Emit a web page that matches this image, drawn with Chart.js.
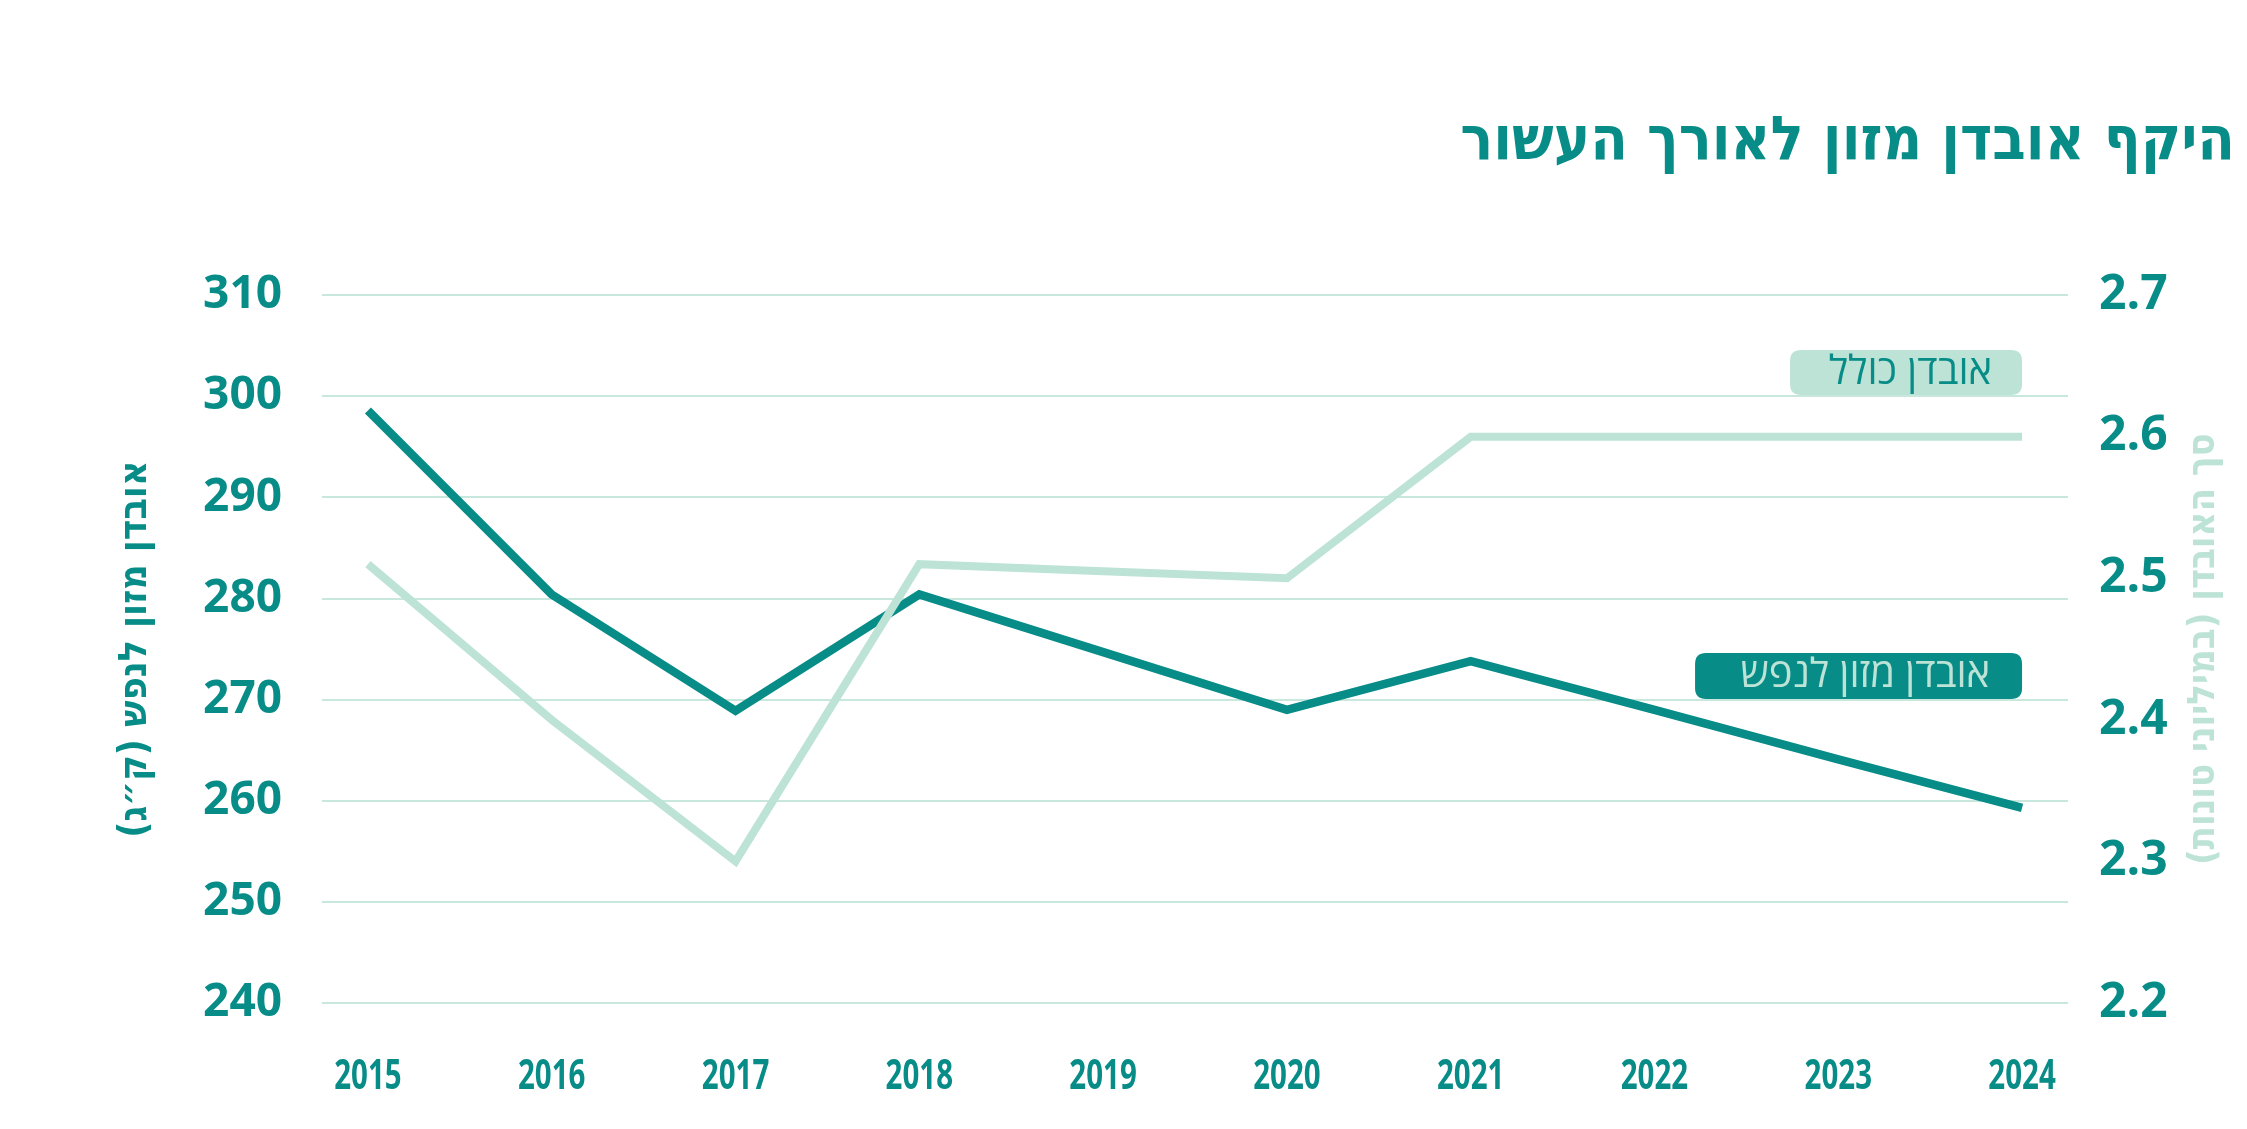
<!DOCTYPE html>
<html lang="he">
<head>
<meta charset="utf-8">
<script src="https://cdn.jsdelivr.net/npm/chart.js@4.4.1/dist/chart.umd.min.js"></script>
<style>
  html, body { margin: 0; padding: 0; background: #ffffff; }
  #wrap { width: 2247px; height: 1129px; }
</style>
</head>
<body>
<div id="wrap"><canvas id="c" width="2247" height="1129"></canvas></div>
<script>
// ---- Data ----
const years = [2015, 2016, 2017, 2018, 2019, 2020, 2021, 2022, 2023, 2024];
const perCapitaKg = [298.6, 280.4, 268.9, 280.4, 274.7, 269.0, 273.8, 269.0, 264.1, 259.3];
const totalMillionTons = [2.51, 2.40, 2.30, 2.51, 2.505, 2.50, 2.60, 2.60, 2.60, 2.60];
const leftTicks = [240, 250, 260, 270, 280, 290, 300, 310];
const rightTicks = [2.2, 2.3, 2.4, 2.5, 2.6, 2.7];

const titleText = 'היקף אובדן מזון לאורך העשור';
const leftAxisTitle = 'אובדן מזון לנפש (ק״ג)';
const rightAxisTitle = 'סך האובדן (במיליוני טונות)';
const totalLabel = 'אובדן כולל';
const perCapitaLabel = 'אובדן מזון לנפש';

const DARK = '#078C87';
const LIGHT = '#BDE3D7';
const GRID = '#C8E8DE';

const condensed = '"DejaVu Sans Condensed", "DejaVu Sans", sans-serif';
const sans = '"Open Sans", "Noto Sans", "DejaVu Sans", sans-serif';

function roundRect(ctx, x, y, w, h, r) {
  ctx.beginPath();
  ctx.moveTo(x + r, y);
  ctx.lineTo(x + w - r, y);
  ctx.quadraticCurveTo(x + w, y, x + w, y + r);
  ctx.lineTo(x + w, y + h - r);
  ctx.quadraticCurveTo(x + w, y + h, x + w - r, y + h);
  ctx.lineTo(x + r, y + h);
  ctx.quadraticCurveTo(x, y + h, x, y + h - r);
  ctx.lineTo(x, y + r);
  ctx.quadraticCurveTo(x, y, x + r, y);
  ctx.closePath();
}

const decor = {
  id: 'decor',
  afterDraw(chart) {
    const ctx = chart.ctx;
    const area = chart.chartArea;
    const midY = (area.top + area.bottom) / 2;
    ctx.save();
    ctx.direction = 'rtl';
    ctx.textBaseline = 'middle';
    ctx.textAlign = 'center';
    ctx.font = 'bold 39px ' + condensed;
    // left axis title (rotated counter-clockwise)
    ctx.save();
    ctx.translate(136, midY);
    ctx.rotate(-Math.PI / 2);
    ctx.fillStyle = DARK;
    ctx.fillText(leftAxisTitle, 0, 0);
    ctx.restore();
    // right axis title (also counter-clockwise)
    ctx.save();
    ctx.translate(2204, midY);
    ctx.rotate(-Math.PI / 2);
    ctx.fillStyle = LIGHT;
    ctx.font = 'bold 38px ' + condensed;
    ctx.fillText(rightAxisTitle, 0, 0);
    ctx.restore();

    // x tick labels, condensed (positions from the x scale)
    const xs = chart.scales.x;
    ctx.direction = 'ltr';
    ctx.font = 'bold 41px ' + sans;
    ctx.fillStyle = DARK;
    xs.ticks.forEach((t) => {
      ctx.save();
      ctx.translate(xs.getPixelForValue(t.value), 1077);
      ctx.scale(0.72, 1);
      ctx.fillText(String(t.value), 0, 0);
      ctx.restore();
    });

    // series labels
    ctx.direction = 'rtl';
    const xr = xs.getPixelForValue(years[years.length - 1]);
    ctx.textAlign = 'right';
    ctx.font = '40px ' + sans;
    roundRect(ctx, xr - 232, 350, 232, 45, 11);
    ctx.fillStyle = LIGHT;
    ctx.fill();
    ctx.fillStyle = DARK;
    ctx.fillText(totalLabel, xr - 30, 373);
    roundRect(ctx, xr - 327, 653, 327, 46, 11);
    ctx.fillStyle = DARK;
    ctx.fill();
    ctx.fillStyle = LIGHT;
    ctx.fillText(perCapitaLabel, xr - 32, 676);
    ctx.restore();
  }
};

new Chart(document.getElementById('c'), {
  type: 'line',
  data: {
    datasets: [
      {
        label: totalLabel,
        data: years.map((y, i) => ({ x: y, y: totalMillionTons[i] })),
        yAxisID: 'y1',
        borderColor: LIGHT,
        borderWidth: 8,
        borderJoinStyle: 'miter',
        borderCapStyle: 'butt',
        pointRadius: 0,
        tension: 0,
        fill: false
      },
      {
        label: perCapitaLabel,
        data: years.map((y, i) => ({ x: y, y: perCapitaKg[i] })),
        yAxisID: 'y',
        borderColor: DARK,
        borderWidth: 8.5,
        borderJoinStyle: 'miter',
        borderCapStyle: 'butt',
        pointRadius: 0,
        tension: 0,
        fill: false
      }
    ]
  },
  options: {
    responsive: false,
    animation: false,
    devicePixelRatio: 1,
    layout: { padding: { top: 0, left: 0, right: 12, bottom: 0 } },
    plugins: {
      legend: { display: false },
      tooltip: { enabled: false },
      title: {
        display: true,
        text: titleText,
        align: 'end',
        color: DARK,
        font: { family: condensed, size: 61, weight: 'bold', lineHeight: 1.2 },
        padding: { top: 107, bottom: 115 }
      }
    },
    scales: {
      x: {
        type: 'linear',
        min: years[0] - 0.25,
        max: years[years.length - 1] + 0.25,
        afterBuildTicks: (s) => { s.ticks = years.map(v => ({ value: v })); },
        afterFit: (s) => { s.height = 126; },
        grid: { display: false, drawTicks: false },
        border: { display: false },
        ticks: {
          display: false,
          autoSkip: false,
          maxRotation: 0
        }
      },
      y: {
        position: 'left',
        min: leftTicks[0],
        max: leftTicks[leftTicks.length - 1],
        afterBuildTicks: (s) => { s.ticks = leftTicks.map(v => ({ value: v })); },
        afterFit: (s) => { s.width = 322; },
        grid: { color: GRID, lineWidth: 2, drawTicks: false },
        border: { display: false },
        ticks: {
          padding: 40,
          color: DARK,
          font: { family: sans, size: 46, weight: 'bold' }
        }
      },
      y1: {
        position: 'right',
        min: rightTicks[0],
        max: rightTicks[rightTicks.length - 1],
        afterBuildTicks: (s) => { s.ticks = rightTicks.map(v => ({ value: v })); },
        afterFit: (s) => { s.width = 167; },
        grid: { display: false, drawTicks: false },
        border: { display: false },
        ticks: {
          padding: 31,
          color: DARK,
          font: { family: sans, size: 48, weight: 'bold' },
          callback: (v) => Number(v).toFixed(1)
        }
      }
    }
  },
  plugins: [decor]
});
</script>
</body>
</html>
